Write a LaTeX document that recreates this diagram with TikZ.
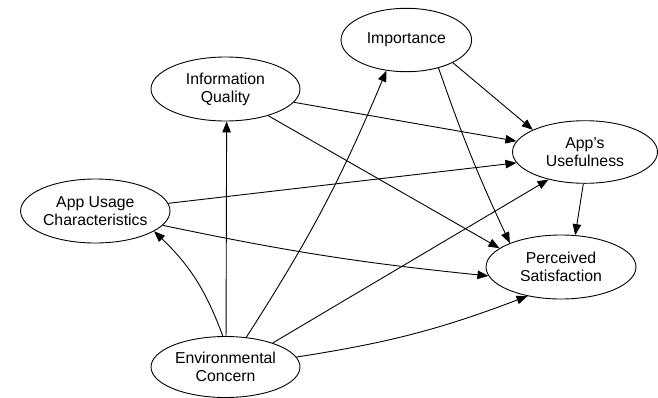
\documentclass[tikz,border=0pt]{standalone}
\usepackage{fontspec}
\setmainfont{Liberation Sans}
\usetikzlibrary{shapes.geometric,arrows.meta}
\tikzset{
  var/.style={ellipse, draw, line width=0.9pt, inner sep=0pt, align=center,
    font=\fontsize{15.8}{18}\selectfont},
  conn/.style={line width=0.9pt, -{Triangle[length=11pt,width=8.5pt]}}
}
\begin{document}
\begin{tikzpicture}[x=1pt,y=-1pt]
\useasboundingbox (0,0) rectangle (658,397);
\node[var, minimum width=149pt, minimum height=64pt] (IQ) at (225.5,89) {Information\\Quality};
\node[var, minimum width=130.6pt, minimum height=63.4pt] (IM) at (406.3,40) {Importance};
\node[var, minimum width=145pt, minimum height=62.6pt] (AU) at (585,152) {App’s\\Usefulness};
\node[var, minimum width=149.4pt, minimum height=64pt] (AUC) at (95.3,211) {App Usage\\Characteristics};
\node[var, minimum width=149pt, minimum height=61pt] (EC) at (225.5,367) {Environmental\\Concern};
\node[var, minimum width=150pt, minimum height=64pt] (PS) at (561,267) {Perceived\\Satisfaction};

\draw[conn] (EC.95) to[bend right=13] (AUC.-19.4);
\draw[conn] (EC.89) -- (IQ.-88);
\draw[conn] (EC.55) to[bend right=5] (IM.-123);
\draw[conn] (EC.27.4) -- (AU.-143.6);
\draw[conn] (EC.8.2) to[bend right=6] (PS.-139.8);
\draw[conn] (AUC.6.3) -- (AU.189.2);
\draw[conn] (AUC.-12) to[bend right=3] (PS.187);
\draw[conn] (IQ.-11.9) -- (AU.171.7);
\draw[conn] (IQ.-32.3) -- (PS.163.4);
\draw[conn] (IM.-26.9) -- (AU.157.6);
\draw[conn] (IM.-41.5) to[bend right=3] (PS.155.8);
\draw[conn] (AU.-93.1) -- (PS.66.4);
\end{tikzpicture}
\end{document}
